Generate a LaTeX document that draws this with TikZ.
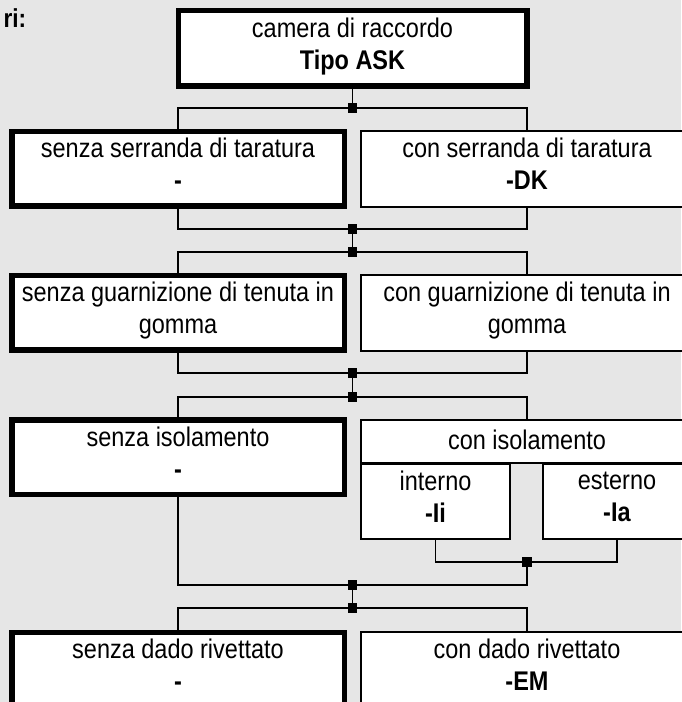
\documentclass[tikz,border=0pt]{standalone}
\usepackage{fontspec}
\setmainfont[FakeStretch=0.87]{Liberation Sans}
\usetikzlibrary{positioning}
\definecolor{bggray}{HTML}{E6E6E6}
\tikzset{
  box/.style={draw=black,fill=white,align=center,inner sep=0pt,
    execute at begin node=\rule{0pt}{26pt},execute at end node=\strut},
  selbox/.style={box,line width=5.5pt,minimum width=332.5pt,minimum height=74.5pt},
  optbox/.style={box,line width=2pt,minimum width=332pt,minimum height=76pt},
  ln/.style={line width=1.2pt,black},
  jn/.style={rectangle,fill=black,minimum size=9.5pt,inner sep=0pt}
}
\begin{document}
\begin{tikzpicture}[x=1pt,y=1pt,font=\fontsize{27}{32}\selectfont]
\useasboundingbox (0,0) rectangle (681,702);
\fill[bggray] (0,0) rectangle (681,702);
\node[anchor=base west,font=\fontsize{26}{32}\selectfont\bfseries] (ttl) at (0,674) {ri:};
% boxes
\node[selbox,minimum width=348.5pt,minimum height=75.5pt] (ask) at (352.5,653.5) {camera di raccordo\\\textbf{Tipo ASK}};
\node[selbox] (dk0) at (178,533) {senza serranda di taratura\\\textbf{-}};
\node[optbox] (dk1) at (527,533) {con serranda di taratura\\\textbf{-DK}};
\node[selbox] (gu0) at (178,389) {senza guarnizione di tenuta in\\gomma};
\node[optbox] (gu1) at (527,389) {con guarnizione di tenuta in\\gomma};
\node[selbox] (is0) at (178,244.5) {senza isolamento\\\textbf{-}};
\node[optbox,minimum height=43pt] (is1) at (527,260.5) {con isolamento};
\node[optbox,minimum width=149pt,minimum height=75pt] (isi) at (435.5,200.5) {interno\\\textbf{-Ii}};
\node[optbox,minimum width=148pt,minimum height=75pt] (ise) at (617,200.5) {esterno\\\textbf{-Ia}};
\node[selbox] (em0) at (178,32) {senza dado rivettato\\\textbf{-}};
\node[optbox] (em1) at (527,32) {con dado rivettato\\\textbf{-EM}};
% junctions
\node[jn] (j1) at (352.5,594) {};
\node[jn] (j2) at (352.5,473) {};
\node[jn] (j3) at (352.5,450) {};
\node[jn] (j4) at (352.5,329) {};
\node[jn] (j5) at (352.5,305) {};
\node[jn] (j6) at (527,140) {};
\node[jn] (j7) at (352.5,117) {};
\node[jn] (j8) at (352.5,94) {};
% connectors
\draw[ln] (ask.south) -- (j1.center);
\draw[ln] (dk0.north) |- (j1.center) -| (dk1.north);
\draw[ln] (dk0.south) |- (j2.center) -| (dk1.south);
\draw[ln] (j2.center) -- (j3.center);
\draw[ln] (gu0.north) |- (j3.center) -| (gu1.north);
\draw[ln] (gu0.south) |- (j4.center) -| (gu1.south);
\draw[ln] (j4.center) -- (j5.center);
\draw[ln] (is0.north) |- (j5.center) -| (is1.north);
\draw[ln] (isi.south) |- (j6.center) -| (ise.south);
\draw[ln] (is0.south) |- (j7.center) -| (j6.center);
\draw[ln] (j7.center) -- (j8.center);
\draw[ln] (em0.north) |- (j8.center) -| (em1.north);
\end{tikzpicture}
\end{document}
